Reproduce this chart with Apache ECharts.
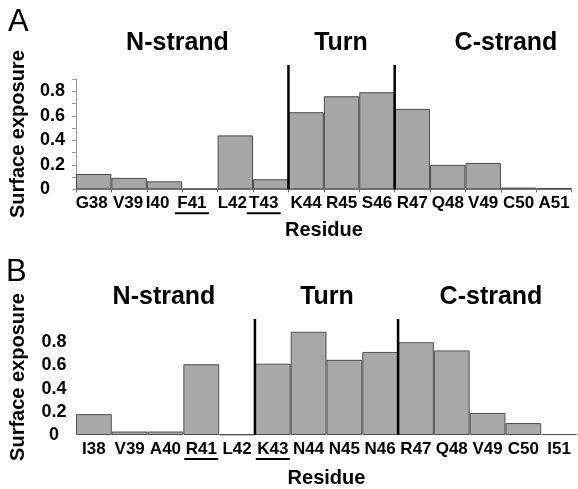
<!DOCTYPE html>
<html>
<head>
<meta charset="utf-8">
<script src="https://cdn.jsdelivr.net/npm/echarts@6/dist/echarts.min.js"></script>
<style>html,body{margin:0;padding:0;background:#fff}#c{width:578px;height:489px}</style>
</head>
<body>
<div id="c"></div>
<script>
// ---- data ----
const catsA = ['G38','V39','I40','F41','L42','T43','K44','R45','S46','R47','Q48','V49','C50','A51'];
const valsA = [0.125,0.093,0.065,0.005,0.44,0.082,0.629,0.759,0.792,0.656,0.199,0.215,0.014,0.011];
const underA = ['F41','T43'];
const sepA = ['K44','R47'];

const catsB = ['I38','V39','A40','R41','L42','K43','N44','N45','N46','R47','Q48','V49','C50','I51'];
const valsB = [0.18,0.03,0.03,0.61,0.005,0.615,0.89,0.648,0.716,0.80,0.729,0.19,0.103,0.008];
const underB = ['R41','K43'];
const sepB = ['K43','R47'];

const yTickLabels = ['0','0.2','0.4','0.6','0.8'];
const regions = ['N-strand','Turn','C-strand'];
const panelLetters = ['A','B'];
const yName = 'Surface exposure';
const xName = 'Residue';

// ---- layout / style ----
const FONT = "'Liberation Sans', Arial, Helvetica, sans-serif";
const labelShiftA = {G38:4, V39:2, I40:14, F41:16, L42:6, T43:14}; // px of right spacer (label drawn left of bar centre)

function yLabelFmt(v){
  const s = String(Math.round(v*10)/10);
  return yTickLabels.indexOf(s) >= 0 ? s : '';
}
function xLabelFmt(under, shifts){
  return function(v){
    const sh = (shifts && shifts[v]) ? '{s' + shifts[v] + '|}' : '';
    return '{t|' + v + '}' + sh + '\n' + (under.indexOf(v) >= 0 ? '{u|}' : '{n|}') + sh;
  };
}
function makeRich(){
  const r = {
    t: {fontSize:17, fontWeight:'bold', fontFamily:FONT, color:'#000', lineHeight:18},
    u: {width:34, height:2, backgroundColor:'#000'},
    n: {width:34, height:2}
  };
  [2,4,6,14,16].forEach(function(w){ r['s'+w] = {width:w, height:2}; });
  return r;
}

function sepRender(params, api){
  const idx = api.value(0);
  const p0 = api.coord([idx, 0]);
  const p1 = api.coord([idx, 1]);
  const w = api.size([1, 0])[0];
  const x = p0[0] - w/2;
  return {type:'line', shape:{x1:x, y1:p0[1], x2:x, y2:p1[1]}, style:{stroke:'#000', lineWidth:2.5}};
}

const chart = echarts.init(document.getElementById('c'), null, {renderer:'canvas'});

const nameStyle = {fontSize:20, fontWeight:'bold', fontFamily:FONT, color:'#000'};

const option = {
  animation:false,
  backgroundColor:'#fff',
  grid:[
    {left:76, top:79, width:495.7, height:110.3},       // A main
    {left:76, top:65, width:495.7, height:124.3},       // A separators
    {left:75.5, top:319, width:501.5, height:123.7}     // B
  ],
  xAxis:[
    {gridIndex:0, type:'category', data:catsA, boundaryGap:true,
     axisLine:{lineStyle:{color:'#888', width:1}},
     axisTick:{show:true, length:3, lineStyle:{color:'#666'}},
     axisLabel:{interval:0, margin:5, formatter:xLabelFmt(underA, labelShiftA), rich:makeRich()},
     name:xName, nameLocation:'middle', nameGap:29, nameTextStyle:nameStyle},
    {gridIndex:1, type:'category', data:catsA, boundaryGap:true, show:false},
    {gridIndex:2, type:'category', data:catsB, boundaryGap:true,
     axisLine:{show:false},
     axisTick:{show:false},
     axisLabel:{interval:0, margin:5, formatter:xLabelFmt(underB, null), rich:makeRich()},
     name:xName, nameLocation:'middle', nameGap:33, nameTextStyle:nameStyle}
  ],
  yAxis:[
    {gridIndex:0, type:'value', min:0, max:0.9, interval:0.1,
     axisLine:{show:true, lineStyle:{color:'#999', width:1}},
     axisTick:{show:true, length:4, lineStyle:{color:'#999'}},
     splitLine:{show:false},
     axisLabel:{margin:36, align:'left', formatter:yLabelFmt, fontSize:18, fontWeight:'bold', fontFamily:FONT, color:'#000'},
     name:yName, nameLocation:'middle', nameGap:48, nameTextStyle:nameStyle},
    {gridIndex:1, type:'value', min:0, max:1, show:false, splitLine:{show:false}},
    {gridIndex:2, type:'value', min:0, max:1, interval:0.2,
     axisLine:{show:false}, axisTick:{show:false}, splitLine:{show:false},
     axisLabel:{margin:22, align:'center', formatter:yLabelFmt, fontSize:18, fontWeight:'bold', fontFamily:FONT, color:'#000', padding:[0,0,9,0]},
     name:yName, nameLocation:'middle', nameGap:48, nameTextStyle:nameStyle}
  ],
  series:[
    {type:'bar', xAxisIndex:0, yAxisIndex:0, data:valsA, barCategoryGap:'0%',
     itemStyle:{color:'#a6a6a6', borderColor:'#4a4a4a', borderWidth:1}},
    {type:'bar', xAxisIndex:2, yAxisIndex:2, data:valsB, barCategoryGap:'0%',
     itemStyle:{color:'#a8a8a8', borderColor:'#505050', borderWidth:1}},
    {type:'custom', xAxisIndex:1, yAxisIndex:1, renderItem:sepRender,
     data:sepA.map(function(c){return [c];}), encode:{x:0}, z:5},
    {type:'custom', xAxisIndex:2, yAxisIndex:2, renderItem:sepRender,
     data:sepB.map(function(c){return [c];}), encode:{x:0}, z:5}
  ],
  graphic:[
    {type:'text', x:8, y:22, style:{text:panelLetters[0], font:'normal 31px '+FONT, fill:'#000', verticalAlign:'middle'}},
    {type:'text', x:6, y:272, style:{text:panelLetters[1], font:'normal 31px '+FONT, fill:'#000', verticalAlign:'middle'}},
    {type:'text', x:177.5, y:43, style:{text:regions[0], font:'bold 25px '+FONT, fill:'#000', align:'center', verticalAlign:'middle'}},
    {type:'text', x:341, y:43, style:{text:regions[1], font:'bold 25px '+FONT, fill:'#000', align:'center', verticalAlign:'middle'}},
    {type:'text', x:506, y:43, style:{text:regions[2], font:'bold 25px '+FONT, fill:'#000', align:'center', verticalAlign:'middle'}},
    {type:'text', x:164, y:297, style:{text:regions[0], font:'bold 25px '+FONT, fill:'#000', align:'center', verticalAlign:'middle'}},
    {type:'text', x:327, y:297, style:{text:regions[1], font:'bold 25px '+FONT, fill:'#000', align:'center', verticalAlign:'middle'}},
    {type:'text', x:491, y:297, style:{text:regions[2], font:'bold 25px '+FONT, fill:'#000', align:'center', verticalAlign:'middle'}}
  ]
};
chart.setOption(option);
</script>
</body>
</html>
